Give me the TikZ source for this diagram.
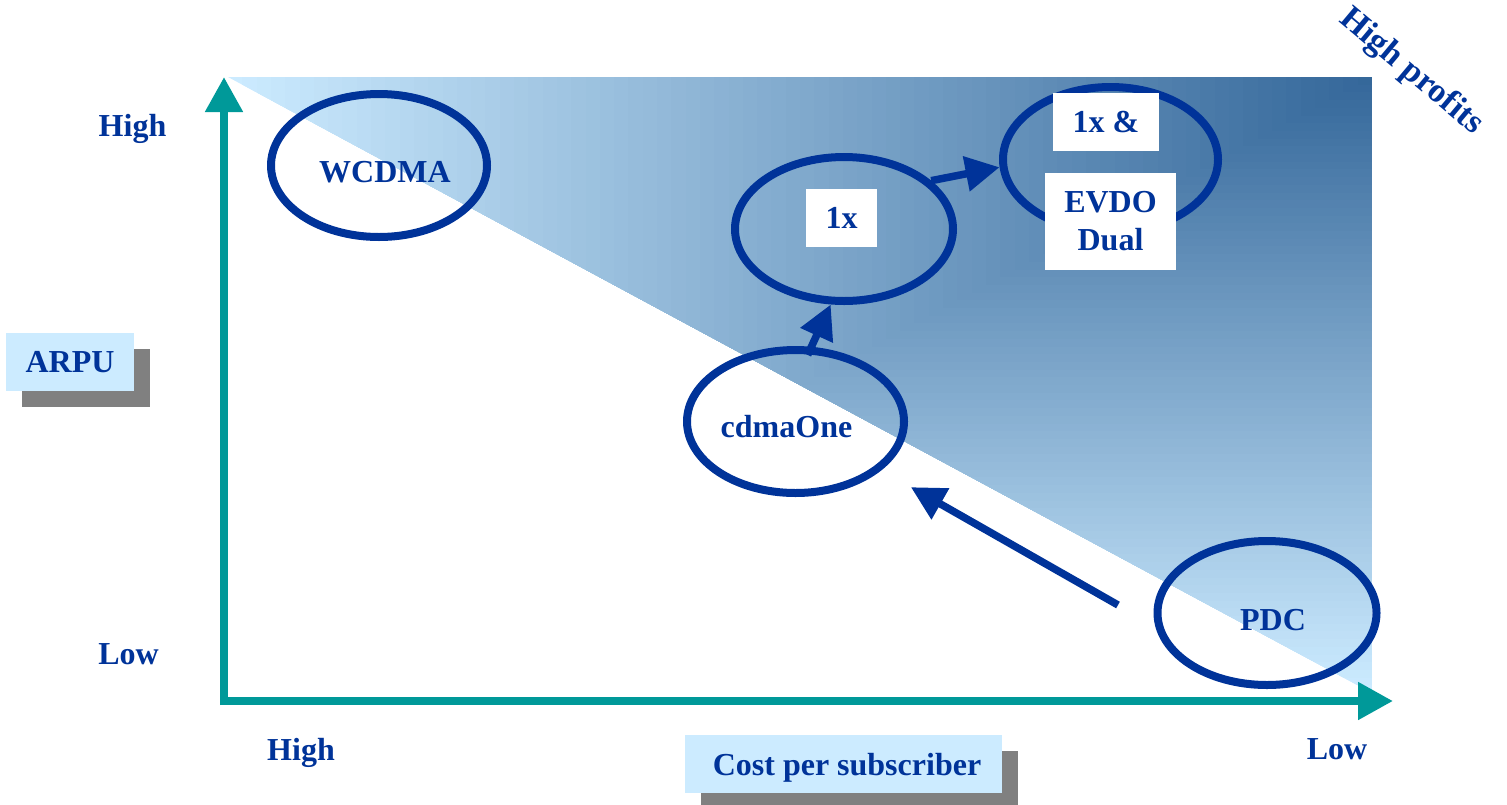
\documentclass[tikz,border=0pt]{standalone}
\usepackage{fontspec}
\setmainfont{Liberation Serif}
\usetikzlibrary{shapes.geometric,arrows.meta}
\definecolor{navy}{HTML}{003399}
\definecolor{tealax}{HTML}{009999}
\definecolor{lightb}{HTML}{CCEBFF}
\definecolor{darkb}{HTML}{336699}
\definecolor{shadowg}{HTML}{808080}
\begin{document}
\begin{tikzpicture}[x=1pt,y=-1pt,
 txt/.style={text=navy,font=\fontsize{32}{38}\selectfont\bfseries,inner sep=0pt},
 oval/.style={ellipse,draw=navy,line width=8pt,inner sep=0pt},
 axisline/.style={draw=tealax,line width=8pt,-{Triangle[length=35pt,width=36pt]}},
 flow/.style={draw=navy,line width=7.5pt,-{Triangle[length=34pt,width=34pt]}},
 whitebox/.style={fill=white,inner sep=0pt,text=navy,font=\fontsize{32}{38}\selectfont\bfseries},
 tagbox/.style={fill=lightb,inner sep=0pt,text=navy,font=\fontsize{32}{38}\selectfont\bfseries},
 shadowbox/.style={fill=shadowg,inner sep=0pt},
]
\useasboundingbox (0,0) rectangle (1507,804);

% shaded triangle
\begin{scope}
\clip (228,77) -- (1372,77) -- (1372,693) -- cycle;
\foreach \k in {80,79,...,1}{
  \pgfmathsetmacro{\tv}{\k/80}
  \pgfmathsetmacro{\pv}{100*\tv}
  \colorlet{cc}{lightb!\pv!darkb}
  \fill[cc] ({1372-1144*\tv},77) rectangle (1373,{77+616*\tv});
}
\end{scope}

% axes
\coordinate (ybot) at (224,705);
\coordinate (ytop) at (224,77);
\coordinate (xbeg) at (220,701);
\coordinate (xend) at (1393,701);
\draw[axisline] (ybot) -- (ytop);
\draw[axisline] (xbeg) -- (xend);

% axis labels
\node[txt,anchor=base] (yhigh) at (132.5,136) {High};
\node[txt,anchor=base] (ylow) at (128.5,664) {Low};
\node[txt,anchor=base] (xhigh) at (301,760) {High};
\node[txt,anchor=base] (xlow) at (1337,759) {Low};
\node[txt,font=\fontsize{34}{40}\selectfont\bfseries,rotate=-40] (profits) at (1411,72) {High profits};

% tag boxes
\node[shadowbox,minimum width=128pt,minimum height=58pt] (arpushadow) at (86,378) {};
\node[tagbox,minimum width=128pt,minimum height=58pt] (arpu) at (70,362) {ARPU};
\node[shadowbox,minimum width=317pt,minimum height=58pt] (costshadow) at (859.5,780) {};
\node[tagbox,minimum width=317pt,minimum height=58pt] (costbox) at (843.5,764) {};
\node[txt,anchor=base] (cost) at (847,775) {Cost per subscriber};

% ellipses
\node[oval,minimum width=216pt,minimum height=143pt] (wcdma) at (379,165.5) {};
\node[oval,minimum width=218pt,minimum height=144pt] (onex) at (844,229) {};
\node[oval,minimum width=215pt,minimum height=145pt] (evdo) at (1110.5,159.5) {};
\node[oval,minimum width=217pt,minimum height=143pt] (cdma) at (795.5,421.5) {};
\node[oval,minimum width=219pt,minimum height=144pt] (pdc) at (1267,613) {};

\node[txt,anchor=base] (wcdmat) at (385,182) {WCDMA};
\node[txt,anchor=base] (cdmat) at (786.5,437) {cdmaOne};
\node[txt,anchor=base] (pdct) at (1273,630) {PDC};

% white boxes
\node[whitebox,minimum width=71pt,minimum height=58pt] (onexbox) at (841.5,218) {1x};
\node[whitebox,minimum width=106pt,minimum height=58pt] (ampbox) at (1106,122) {1x \&};
\node[whitebox,minimum width=131pt,minimum height=97pt,align=center] (evdobox) at (1110.5,221.5) {EVDO\\Dual};

% connectors
\draw[flow,shorten <=-9pt] (cdma.78) -- (onex.-100);
\draw[flow] (onex.29) -- (evdo.184);
\coordinate (pdctail) at (1118,605);
\draw[flow,shorten >=34pt] (pdctail) -- (cdma);
\end{tikzpicture}
\end{document}
